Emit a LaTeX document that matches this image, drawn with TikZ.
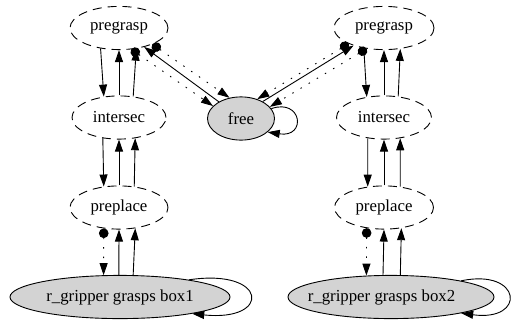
\documentclass[tikz,border=0pt]{standalone}
\usepackage{fontspec}
\setmainfont{Liberation Serif}
\usetikzlibrary{arrows.meta,shapes.geometric}
\definecolor{lg}{HTML}{D3D3D3}
\begin{document}
\begin{tikzpicture}[x=1pt,y=-1pt,
  every node/.style={font=\rmfamily\fontsize{16.8}{20}\selectfont},
  st/.style={ellipse, draw, dash pattern=on 9pt off 6pt, inner sep=0pt, minimum height=43.2pt, line width=0.9pt},
  gr/.style={ellipse, draw, fill=lg, inner sep=0pt, minimum height=43.2pt, line width=0.9pt},
  ed/.style={-{Triangle[length=12pt,width=8pt]}, line width=0.9pt},
  de/.style={{Circle[length=9.6pt]}-{Triangle[length=12pt,width=8pt]}, dash pattern=on 1.5pt off 8pt, line width=0.9pt}
]
\useasboundingbox (0,0) rectangle (511,322);
% nodes
\node[st, minimum width=98pt] (pgL) at (119,28) {pregrasp};
\node[st, minimum width=94pt] (isL) at (119,117.5) {intersec};
\node[st, minimum width=98pt] (ppL) at (119,207.5) {preplace};
\node[gr, minimum width=220pt] (bx1) at (120,297) {r\_gripper grasps box1};
\node[gr, minimum width=67pt] (free) at (241,118.5) {free};
\node[st, minimum width=100pt] (pgR) at (384,28) {pregrasp};
\node[st, minimum width=95pt] (isR) at (384,117.5) {intersec};
\node[st, minimum width=99pt] (ppR) at (384,207.5) {preplace};
\node[gr, minimum width=206pt] (bx2) at (391,297) {};
\node (bx2t) at (381.5,297) {r\_gripper grasps box2};
% left column
\draw[ed] (pgL.228) -- (isL.126);
\draw[ed] (isL.north) -- (pgL.south);
\draw[ed] (isL.56) -- (pgL.-50);
\draw[ed] (isL.232) -- (ppL.126);
\draw[ed] (ppL.north) -- (isL.south);
\draw[ed] (ppL.54) -- (isL.-52);
\draw[de] (ppL.234) -- (bx1.127);
\draw[ed] (bx1.93) -- (ppL.south);
\draw[ed] (bx1.59) -- (ppL.-52);
% right column
\draw[ed] (pgR.225) -- (isR.130);
\draw[ed] (isR.north) -- (pgR.south);
\draw[ed] (isR.56) -- (pgR.-52);
\draw[ed] (isR.232) -- (ppR.128);
\draw[ed] (ppR.north) -- (isR.south);
\draw[ed] (ppR.52) -- (isR.-52);
\draw[de] (ppR.230) -- (bx2.139);
\draw[ed] (bx2.110) -- (ppR.south);
\draw[ed] (bx2.67) -- (ppR.-50);
% free edges
\draw[de] (pgL.-26) -- (free.119);
\draw[ed] (free.143) -- (pgL.-37);
\draw[de] (pgL.-60) -- (free.156);
\draw[de] (pgR.204) -- (free.50);
\draw[ed] (free.38) -- (pgR.210);
\draw[de] (pgR.230) -- (free.22);
% self loops
\draw[ed] (free.18) .. controls (302,98) and (307,138) .. (free.-27);
\draw[ed] (bx1.14) .. controls (268,268) and (272,322) .. (bx1.-13);
\draw[ed] (bx2.13) .. controls (522,268) and (527,322) .. (bx2.-13);
\end{tikzpicture}
\end{document}
